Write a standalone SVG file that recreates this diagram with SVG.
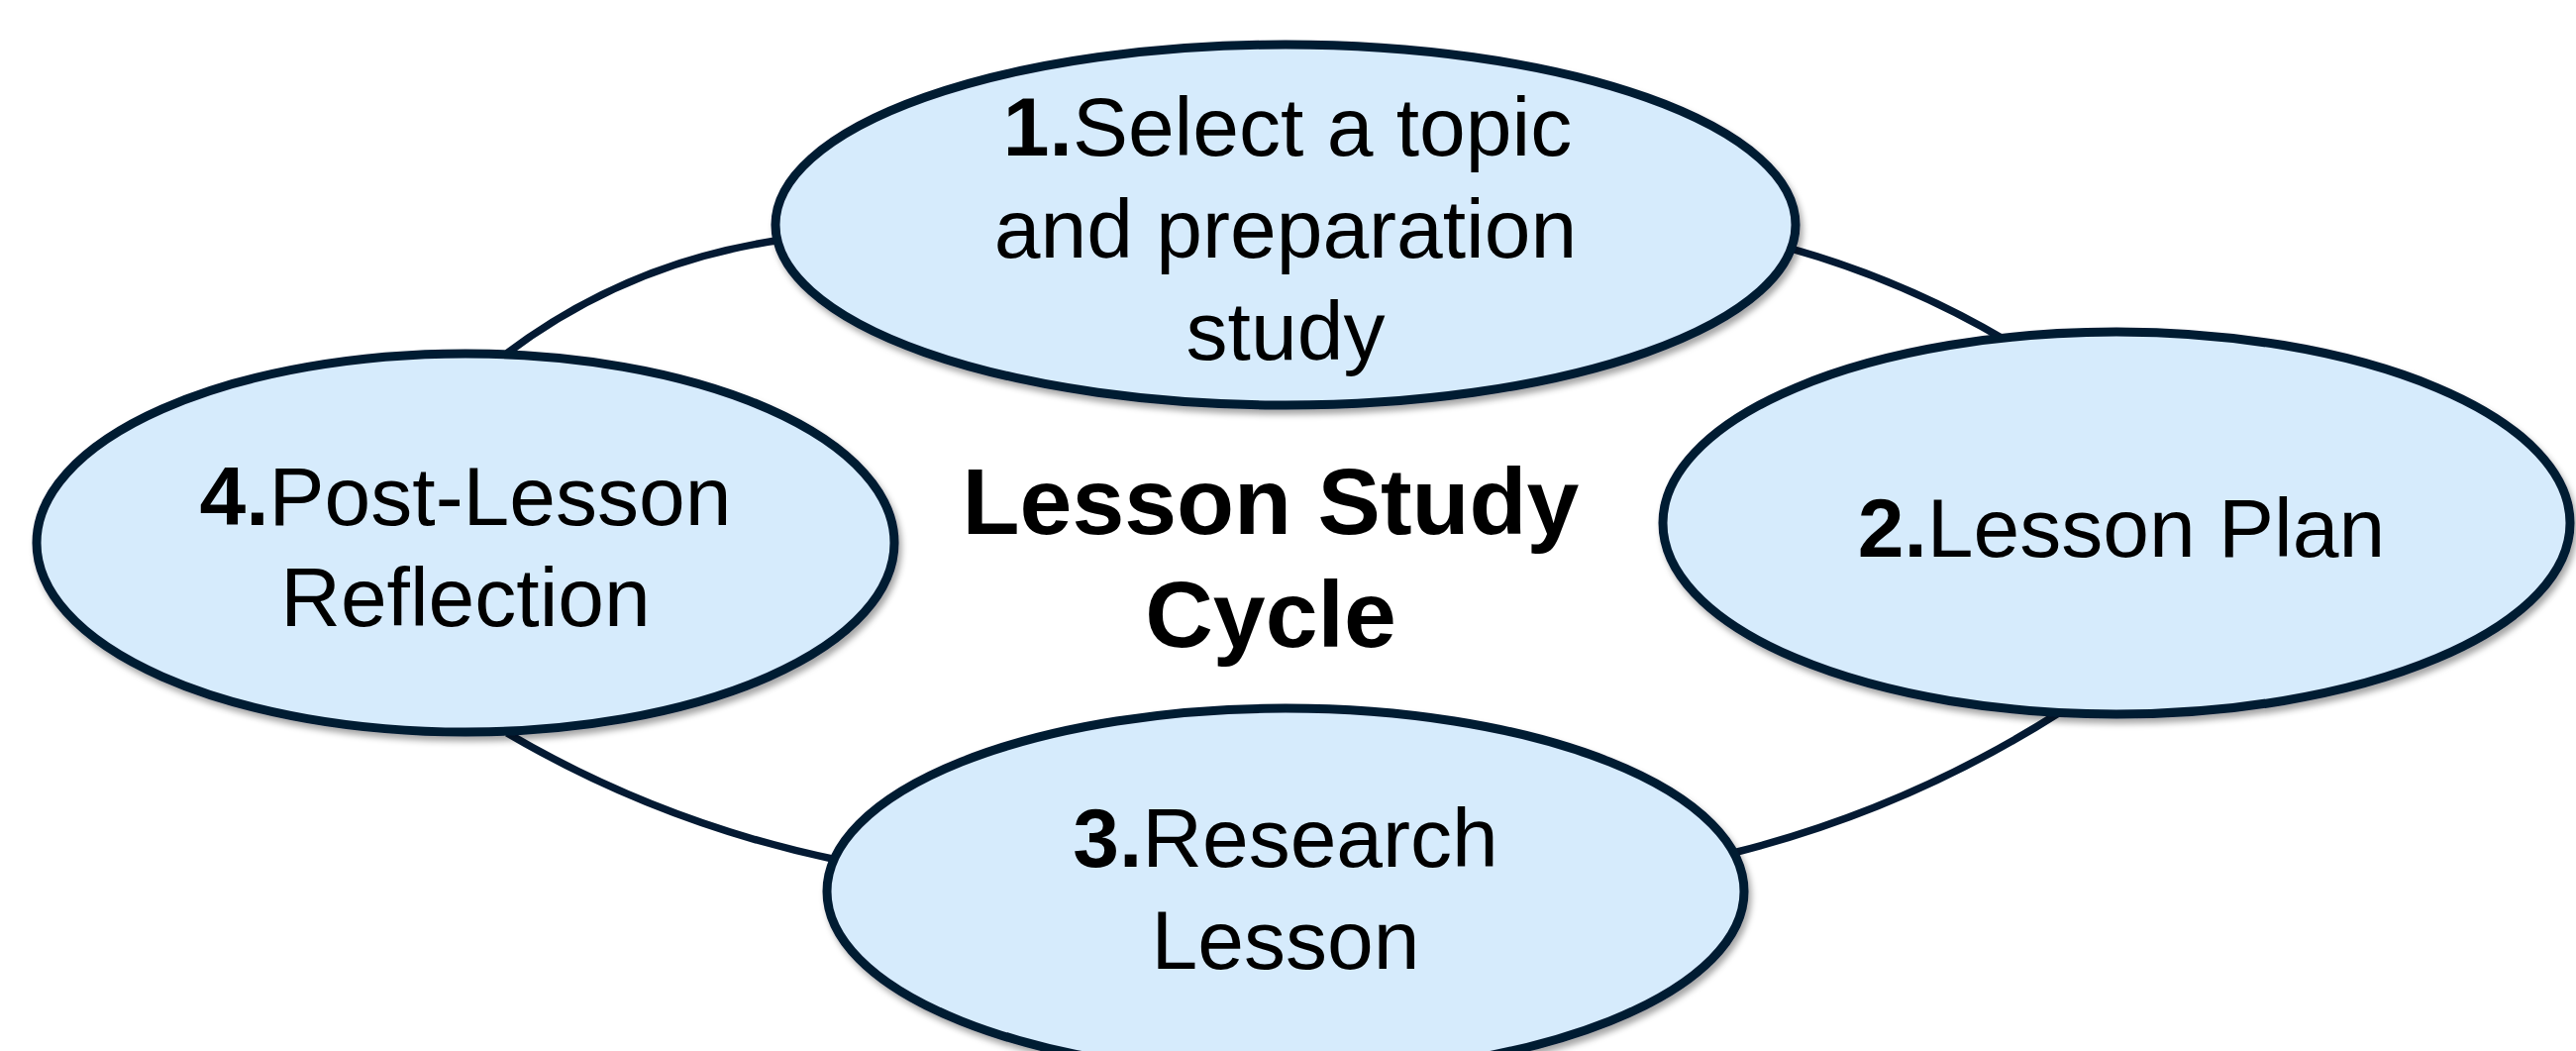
<svg xmlns="http://www.w3.org/2000/svg" width="2601" height="1061" viewBox="0 0 2601 1061">
<defs>
<filter id="sh" x="-10%" y="-10%" width="120%" height="130%">
<feDropShadow dx="3" dy="5" stdDeviation="3" flood-color="#000000" flood-opacity="0.35"/>
</filter>
</defs>
<style>
.node{fill:#D6EBFC;stroke:#041A33;stroke-width:9;filter:url(#sh);}
.conn{fill:none;stroke:#041A33;stroke-width:7.5;}
.lbl{font-family:"Liberation Sans",Arial,sans-serif;font-size:84px;fill:#000;text-anchor:middle;}
.title{font-family:"Liberation Sans",Arial,sans-serif;font-size:95px;font-weight:bold;fill:#000;text-anchor:middle;}
.b{font-weight:bold;}
</style>
<rect width="2601" height="1061" fill="#FFFFFF"/>
<g id="connectors">
<path class="conn" d="M 510 358 Q 634 264 790 242"/>
<path class="conn" d="M 1805 250 Q 1923 283 2026 344"/>
<path class="conn" d="M 2080 719 Q 1926 817 1750 861"/>
<path class="conn" d="M 845 868 Q 667 831 512 740"/>
</g>
<g id="node1">
<ellipse class="node" cx="1298" cy="227" rx="515" ry="182"/>
<text class="lbl" x="1300" y="157"><tspan class="b">1.</tspan>Select a topic</text>
<text class="lbl" x="1298" y="260">and preparation</text>
<text class="lbl" x="1298" y="363">study</text>
</g>
<g id="node2">
<ellipse class="node" cx="2137" cy="528" rx="458" ry="193"/>
<text class="lbl" x="2142" y="562"><tspan class="b">2.</tspan>Lesson Plan</text>
</g>
<g id="node3">
<ellipse class="node" cx="1298" cy="900" rx="463" ry="185"/>
<text class="lbl" x="1298" y="875"><tspan class="b">3.</tspan>Research</text>
<text class="lbl" x="1298" y="978">Lesson</text>
</g>
<g id="node4">
<ellipse class="node" cx="470" cy="548" rx="433" ry="191"/>
<text class="lbl" x="470" y="530"><tspan class="b">4.</tspan>Post-Lesson</text>
<text class="lbl" x="470" y="632">Reflection</text>
</g>
<g id="center">
<text class="title" x="1283" y="539">Lesson Study</text>
<text class="title" x="1283" y="653">Cycle</text>
</g>
</svg>
